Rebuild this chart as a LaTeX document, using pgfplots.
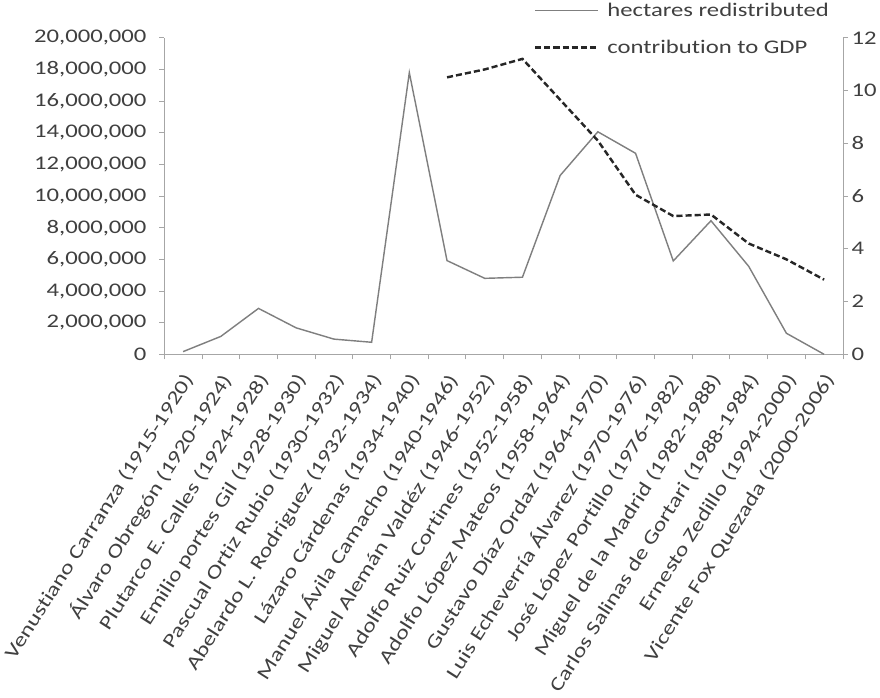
\documentclass[border=0pt]{standalone}
\usepackage{fontspec}
\setmainfont{Carlito}[FakeStretch=1.28, Ligatures=NoCommon]
\usepackage{pgfplots}
\usepackage{pgfplotstable}
\pgfplotsset{compat=1.18}
\definecolor{txt}{HTML}{404040}
\definecolor{axgray}{HTML}{A6A6A6}
\definecolor{hect}{HTML}{7F7F7F}
\definecolor{gdp}{HTML}{262626}

% hectares redistributed per presidency
\pgfplotstableread{
i ha
0 170000
1 1130000
2 2900000
3 1670000
4 960000
5 760000
6 17800000
7 5920000
8 4800000
9 4870000
10 11300000
11 14060000
12 12700000
13 5900000
14 8440000
15 5560000
16 1330000
17 0
}\hectares

% agriculture contribution to GDP (%)
\pgfplotstableread{
i gdp
7 10.5
8 10.8
9 11.2
10 9.65
11 8.1
12 6.05
13 5.24
14 5.3
15 4.2
16 3.6
17 2.83
}\gdp

\begin{document}
\begin{tikzpicture}[font=\fontsize{19}{23}\selectfont]
\pgfplotsset{
  every axis/.append style={
    width=669pt, height=312pt, scale only axis,
    xmin=-0.5, xmax=17.5,
    tick align=outside, major tick length=5pt,
    tick style={draw=axgray, line width=0.8pt},
    axis line style={-, draw=axgray, line width=0.8pt},
    tick label style={text=txt, font=\fontsize{19}{23}\selectfont},
    /pgf/number format/assume math mode=true,
  }}
\begin{axis}[
  axis x line*=bottom, axis y line*=left,
  ymin=0, ymax=20000000,
  ytick={0,2000000,4000000,6000000,8000000,10000000,12000000,14000000,16000000,18000000,20000000},
  scaled y ticks=false,
  yticklabel style={xshift=-9pt, /pgf/number format/.cd, fixed, 1000 sep={,}},
  xtick={-0.5,0.5,...,17.5}, xticklabels={},
  extra x ticks={0,1,...,17},
  extra x tick labels={
    Venustiano Carranza (1915-1920),
    Álvaro Obregón (1920-1924),
    Plutarco E. Calles (1924-1928),
    Emilio portes Gil (1928-1930),
    Pascual Ortiz Rubio (1930-1932),
    Abelardo L. Rodriguez (1932-1934),
    Lázaro Cárdenas (1934-1940),
    Manuel Ávila Camacho (1940-1946),
    Miguel Alemán Valdéz (1946-1952),
    Adolfo Ruiz Cortines (1952-1958),
    Adolfo López Mateos (1958-1964),
    Gustavo Díaz Ordaz (1964-1970),
    Luis Echeverría Álvarez (1970-1976),
    José López Portillo (1976-1982),
    Miguel de la Madrid (1982-1988),
    Carlos Salinas de Gortari (1988-1984),
    Ernesto Zedillo (1994-2000),
    Vicente Fox Quezada (2000-2006)},
  extra x tick style={major tick length=0pt,
    xticklabel style={xshift=7pt, yshift=-20pt, rotate=57.5, anchor=east, inner sep=2pt}},
]
\addplot[hect, line width=1.4pt, no marks] table[x=i, y=ha] {\hectares};
\end{axis}
\begin{axis}[
  axis x line=none, axis y line*=right,
  ymin=0, ymax=12, ytick={0,2,...,12},
  legend style={draw=none, fill=none, at={(0.54,1.12)}, anchor=north west,
    text=txt, font=\fontsize{19}{23}\selectfont, row sep=20pt,
    nodes={inner sep=1pt},
    /tikz/every odd column/.append style={column sep=7pt}},
  legend cell align=left,
  legend image code/.code={\draw[#1] (0pt,0pt) -- (62pt,0pt);},
]
\addlegendimage{hect, line width=1.4pt}
\addlegendentry{hectares redistributed}
\addplot[gdp, line width=2.4pt, dash pattern=on 6pt off 3pt, no marks] table[x=i, y=gdp] {\gdp};
\addlegendentry{contribution to GDP}
\end{axis}
\end{tikzpicture}
\end{document}
